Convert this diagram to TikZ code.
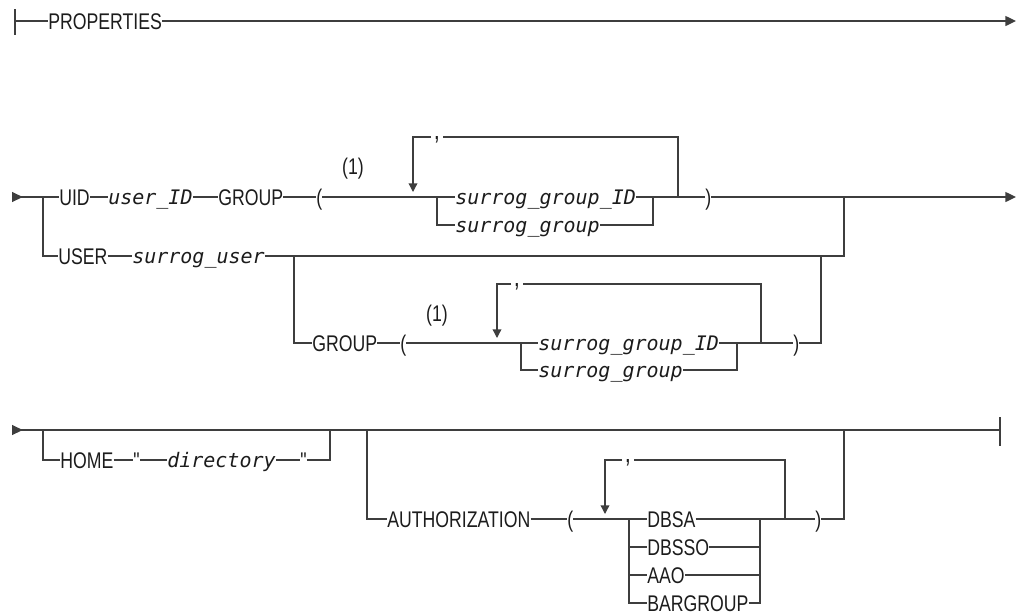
\documentclass[tikz,border=0pt]{standalone}
\usepackage{fontspec}
\usetikzlibrary{arrows.meta}
\newfontfamily\kwfont{Liberation Sans}[FakeStretch=0.78]
\newfontfamily\varfont{DejaVu Sans Mono}
\definecolor{railgray}{RGB}{62,62,62}
\definecolor{inkblack}{RGB}{28,28,28}
\tikzset{
  rail/.style={draw=railgray, line width=1pt},
  kw/.style={inner sep=0pt, text height=12.2pt, text depth=0pt, anchor=west,
    text=inkblack, font=\kwfont\fontsize{17pt}{20pt}\selectfont},
  var/.style={kw, text height=10.9pt, font=\varfont\itshape\fontsize{15pt}{18pt}\selectfont},
  sep/.style={kw, anchor=north, text height=2pt, text depth=4pt, inner xsep=2pt,
    font=\kwfont\fontsize{21pt}{24pt}\selectfont},
  tip/.tip={Triangle[length=8pt, width=7.5pt]},
  downtip/.tip={Triangle[length=6.5pt, width=6.5pt]}
}
\begin{document}
\begin{tikzpicture}[x=0.75pt, y=-0.75pt]
  \useasboundingbox (0,0) rectangle (1021,615);

  % fragment header
  \node[kw] (props) at (48,21) {PROPERTIES};
  \coordinate (h0) at (15,21);
  \coordinate (h1) at (1016,21);
  \draw[rail] (15,9) -- (15,35);
  \draw[rail] (h0) -- (props.west);
  \draw[rail, -tip] (props.east) -- (h1);

  % first line: UID / USER
  \coordinate (a0) at (12,197);
  \coordinate (a1) at (1016,197);
  \node[kw] (uid) at (59,197) {UID};
  \node[var] (userid) at (108,197) {user\_ID};
  \node[kw] (grp) at (218,197) {GROUP};
  \node[kw] (lp) at (316,197) {(};
  \node[kw, anchor=center] (note1) at (353,166) {(1)};
  \node[var] (sgid) at (455,197) {surrog\_group\_ID};
  \node[var] (sg) at (455,225) {surrog\_group};
  \node[kw] (rp) at (705,197) {)};
  \node[sep] (c1) at (437,137) {,};
  \node[kw] (user) at (58,256) {USER};
  \node[var] (suser) at (132,256) {surrog\_user};

  \draw[rail, {tip[reversed]}-] (a0) -- (uid.west);
  \draw[rail] (uid.east) -- (userid.west);
  \draw[rail] (userid.east) -- (grp.west);
  \draw[rail] (grp.east) -- (lp.west);
  \draw[rail] (lp.east) -- (sgid.west);
  \draw[rail] (sgid.east) -- (rp.west);
  \draw[rail, -tip] (rp.east) -- (a1);
  \draw[rail] (437,197) |- (sg.west);
  \draw[rail] (sg.east) -| (653,197);
  \draw[rail] (678,197) |- (c1.north east);
  \draw[rail, -downtip] (c1.north west) -| (413,192);
  \draw[rail] (43,197) |- (user.west);
  \draw[rail] (user.east) -- (suser.west);
  \draw[rail] (suser.east) -| (844,197);

  % optional GROUP after USER
  \node[kw] (grp2) at (312,343) {GROUP};
  \node[kw] (lp2) at (400,343) {(};
  \node[kw, anchor=center] (note2) at (437,313) {(1)};
  \node[var] (sgid2) at (538,343) {surrog\_group\_ID};
  \node[var] (sg2) at (538,370) {surrog\_group};
  \node[kw] (rp2) at (793,343) {)};
  \node[sep] (c2) at (517,284) {,};

  \draw[rail] (294,256) |- (grp2.west);
  \draw[rail] (grp2.east) -- (lp2.west);
  \draw[rail] (lp2.east) -- (sgid2.west);
  \draw[rail] (sgid2.east) -- (rp2.west);
  \draw[rail] (rp2.east) -| (821,256);
  \draw[rail] (521,343) |- (sg2.west);
  \draw[rail] (sg2.east) -| (737,343);
  \draw[rail] (761,343) |- (c2.north east);
  \draw[rail, -downtip] (c2.north west) -| (497,338);

  % second line: HOME / AUTHORIZATION
  \coordinate (b0) at (12,430);
  \coordinate (b1) at (1000,430);
  \node[kw] (home) at (60,460) {HOME};
  \node[kw] (q1) at (133,460) {"};
  \node[var] (dir) at (167,460) {directory};
  \node[kw] (q2) at (300,460) {"};
  \node[kw] (auth) at (387,519) {AUTHORIZATION};
  \node[kw] (lp3) at (567,519) {(};
  \node[kw] (dbsa) at (647,519) {DBSA};
  \node[kw] (dbsso) at (647,547) {DBSSO};
  \node[kw] (aao) at (647,575) {AAO};
  \node[kw] (barg) at (647,603) {BARGROUP};
  \node[kw] (rp3) at (815,519) {)};
  \node[sep] (c3) at (628,460) {,};

  \draw[rail, {tip[reversed]}-] (b0) -- (b1);
  \draw[rail] (1000,417) -- (1000,446);
  \draw[rail] (43,430) |- (home.west);
  \draw[rail] (home.east) -- (q1.west);
  \draw[rail] (q1.east) -- (dir.west);
  \draw[rail] (dir.east) -- (q2.west);
  \draw[rail] (q2.east) -| (330,430);
  \draw[rail] (367,430) |- (auth.west);
  \draw[rail] (auth.east) -- (lp3.west);
  \draw[rail] (lp3.east) -- (dbsa.west);
  \draw[rail] (dbsa.east) -- (rp3.west);
  \draw[rail] (629,519) |- (dbsso.west);
  \draw[rail] (629,519) |- (aao.west);
  \draw[rail] (629,519) |- (barg.west);
  \draw[rail] (dbsso.east) -| (760,519);
  \draw[rail] (aao.east) -| (760,519);
  \draw[rail] (barg.east) -| (760,519);
  \draw[rail] (785,519) |- (c3.north east);
  \draw[rail, -downtip] (c3.north west) -| (605,514);
  \draw[rail] (rp3.east) -| (844,430);
\end{tikzpicture}
\end{document}
